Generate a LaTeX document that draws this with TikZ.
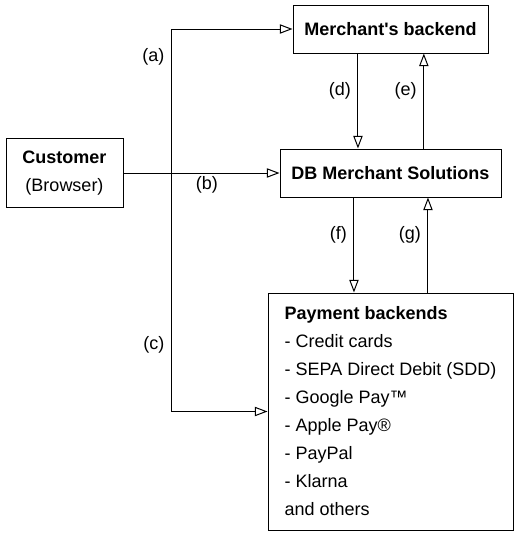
\documentclass[tikz,border=0pt]{standalone}
\usepackage{fontspec}
\setmainfont{Liberation Sans}
\usepackage{tikz}
\usetikzlibrary{arrows.meta}
\begin{document}
\begin{tikzpicture}[font=\fontsize{13.5pt}{21pt}\selectfont]
\tikzset{
  block/.style = {rectangle, draw, line width=0.75pt, align=center, minimum height=36pt, inner sep=4pt},
  listblock/.style = {block, align=left, minimum width=183.75pt, minimum height=177.75pt},
  line/.style = {draw, line width=0.75pt, -{Triangle[open, length=9.5pt, width=7pt]}},
  tag/.style = {inner sep=0pt}
}
\useasboundingbox (0,0) rectangle (389.25pt,-402pt);
\node [block, minimum width=146.25pt] (merchant) at (292.875pt,-21.75pt) {\textbf{Merchant\textquotesingle s backend}};
\node [block, below of=merchant, node distance=108pt, minimum width=165.75pt] (db) {\textbf{DB Merchant Solutions}};
\node [block, left of=db, node distance=244.5pt, minimum width=87.75pt, minimum height=51.75pt] (customer) {\textbf{Customer}\\(Browser)};
\node [listblock, below of=db, node distance=178.875pt] (payment) {\textbf{Payment backends}\\- Credit cards\\- SEPA Direct Debit (SDD)\\- Google Pay™\\- Apple Pay®\\- PayPal\\- Klarna\\and others};
\coordinate (trunk) at ([xshift=36pt]customer.east);
\path [line] (customer.east) -- (trunk) |- node [tag, pos=0.405, left=5pt] {(a)} (merchant.west);
\path [line] (customer.east) -- node [tag, pos=0.535, below=2pt] {(b)} (db.west);
\path [line] (customer.east) -- (trunk) |- node [tag, pos=0.36, left=5pt] {(c)} (payment.west);
\path [line] ([xshift=-24.4pt]merchant.south) -- node [tag, pos=0.39, left=5pt] {(d)} ([xshift=-24.4pt]db.north);
\path [line] ([xshift=25pt]db.north) -- node [tag, pos=0.61, left=5pt] {(e)} ([xshift=25pt]merchant.south);
\path [line] ([xshift=-27.4pt]db.south) -- node [tag, pos=0.39, left=5pt] {(f)} ([xshift=-27.4pt]payment.north);
\path [line] ([xshift=28.1pt]payment.north) -- node [tag, pos=0.61, left=5pt] {(g)} ([xshift=28.1pt]db.south);
\end{tikzpicture}
\end{document}
